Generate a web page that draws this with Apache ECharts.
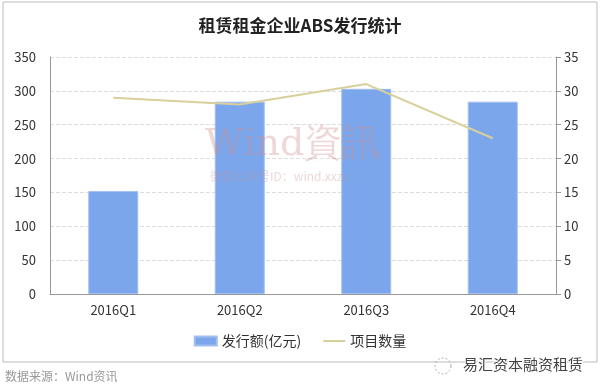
<!DOCTYPE html>
<html><head><meta charset="utf-8">
<script src="https://cdn.jsdelivr.net/npm/echarts@6/dist/echarts.min.js"></script>
<style>html,body{margin:0;padding:0;background:#fff}#c{width:600px;height:389px}</style>
</head><body><div id="c"></div>
<script>
const categories = ['2016Q1','2016Q2','2016Q3','2016Q4'];
const issueAmount = [152, 284, 303, 284];
const projectCount = [29, 28, 31, 23];
const leftTicks = [0,50,100,150,200,250,300,350];
const rightTicks = [0,5,10,15,20,25,30,35];

const font = '"Noto Sans CJK SC", "Noto Sans", sans-serif';
const chart = echarts.init(document.getElementById('c'));
chart.setOption({
  animation: false,
  backgroundColor: '#fff',
  title: {
    text: '租赁租金企业ABS发行统计', left: 'center', top: 12,
    textStyle: {fontFamily: font, fontSize: 17, fontWeight: 'bold', color: '#222'}
  },
  legend: {
    bottom: 36, left: 'center', itemGap: 22, itemWidth: 22, itemHeight: 9,
    textStyle: {fontFamily: font, fontSize: 14, color: '#333'},
    data: [{name: '发行额(亿元)', icon: 'rect'}, {name: '项目数量', icon: 'path://M0,40 L220,40 L220,60 L0,60 Z', itemStyle: {color: '#d8d09c'}}]
  },
  grid: {left: 50, right: 44, top: 57, bottom: 95},
  xAxis: {
    type: 'category', data: categories,
    axisLine: {lineStyle: {color: '#999'}},
    axisTick: {show: false},
    axisLabel: {fontFamily: font, fontSize: 13, color: '#333', margin: 10}
  },
  yAxis: [{
    type: 'value', min: leftTicks[0], max: leftTicks[leftTicks.length-1], interval: 50,
    axisLine: {show: true, lineStyle: {color: '#999'}},
    axisTick: {show: false},
    axisLabel: {fontFamily: font, fontSize: 13, color: '#333', margin: 14},
    splitLine: {lineStyle: {color: '#ddd', type: 'dashed'}}
  }, {
    type: 'value', min: rightTicks[0], max: rightTicks[rightTicks.length-1], interval: 5,
    axisLine: {show: true, lineStyle: {color: '#999'}},
    axisTick: {show: true, length: 5, lineStyle: {color: '#999'}},
    axisLabel: {fontFamily: font, fontSize: 13, color: '#333', margin: 8},
    splitLine: {show: false}
  }],
  series: [{
    name: '发行额(亿元)', type: 'bar', data: issueAmount, barWidth: 50,
    itemStyle: {color: '#7ca6eb', borderColor: '#a0bff0', borderWidth: 1}, z: 2
  }, {
    name: '项目数量', type: 'line', yAxisIndex: 1, data: projectCount,
    symbol: 'none', lineStyle: {color: '#d8d09c', width: 2},
    itemStyle: {color: '#d8d09c'}, z: 3
  }],
  graphic: [
    {type: 'rect', shape: {x: 3, y: 2, width: 594, height: 360}, style: {fill: 'none', stroke: '#bbb', lineWidth: 1}, z: -1},
    {type: 'text', left: 205, top: 126, z: 10, style: {text: 'Wind資訊', fill: 'rgba(210,140,140,0.35)', font: '38px "DejaVu Serif", serif'}},
    {type: 'text', left: 210, top: 170, z: 10, style: {text: '微信公众号ID：wind.xxzx', fill: 'rgba(200,140,140,0.35)', font: '12px "Noto Sans CJK SC", serif'}},
    {type: 'text', left: 5, top: 370, style: {text: '数据来源：Wind资讯', fill: '#999', font: '12px "Noto Sans CJK SC", sans-serif'}},
    {type: 'text', left: 462, top: 356, style: {text: '易汇资本融资租赁', fill: '#444', font: '15px "Noto Sans CJK SC", sans-serif', stroke: '#fff', lineWidth: 2}},
    {type: 'circle', shape: {cx: 443, cy: 366, r: 8}, style: {fill: 'none', stroke: '#aaa', lineWidth: 1, lineDash: [2,2]}}
  ]
});
</script></body></html>
